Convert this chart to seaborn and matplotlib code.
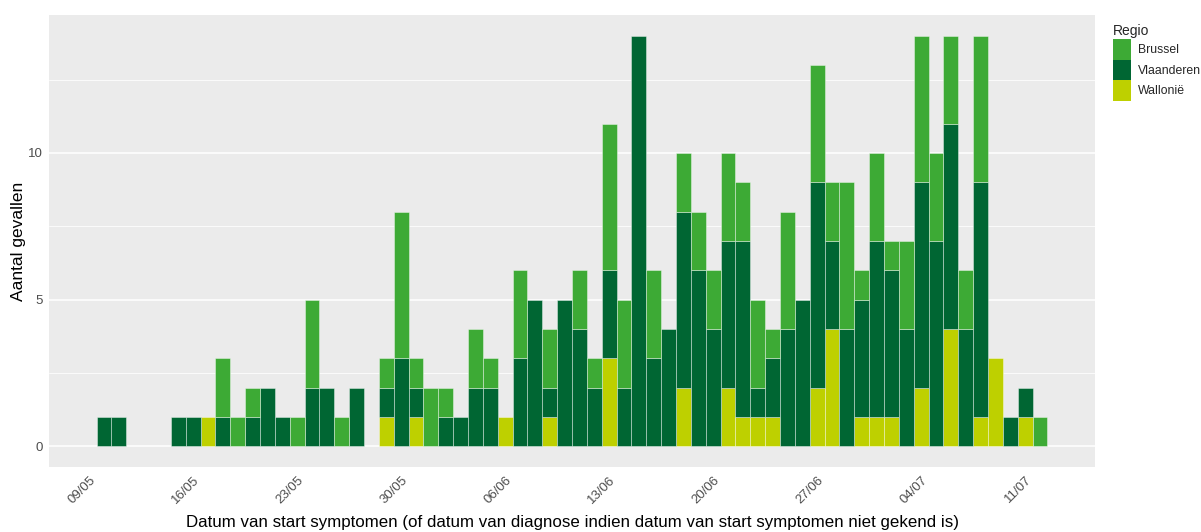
import numpy as np
import pandas as pd
import matplotlib.pyplot as plt
import seaborn as sns
from matplotlib.patches import Patch

# daily case counts per region, 10/05 -> 12/07
dates = pd.date_range("2020-05-10", "2020-07-12")
brussel = [0, 0, 0, 0, 0, 0, 0, 0, 2, 1, 1, 0, 0, 1, 3, 0, 1, 0, 0, 1,
           5, 1, 2, 1, 0, 2, 1, 0, 3, 0, 2, 0, 2, 1, 5, 3, 0, 3, 0, 2,
           2, 2, 3, 2, 3, 1, 4, 0, 4, 2, 5, 1, 3, 1, 3, 5, 3, 3, 2, 5,
           0, 0, 0, 1]
vlaanderen = [1, 1, 0, 0, 0, 1, 1, 0, 1, 0, 1, 2, 1, 0, 2, 2, 0, 2, 0, 1,
              3, 1, 0, 1, 1, 2, 2, 0, 3, 5, 1, 5, 4, 2, 3, 2, 14, 3, 4, 6,
              6, 4, 5, 6, 1, 2, 4, 5, 7, 3, 4, 4, 6, 5, 4, 7, 7, 7, 4, 8,
              0, 1, 1, 0]
wallonie = [0, 0, 0, 0, 0, 0, 0, 1, 0, 0, 0, 0, 0, 0, 0, 0, 0, 0, 0, 1,
            0, 1, 0, 0, 0, 0, 0, 1, 0, 0, 1, 0, 0, 0, 3, 0, 0, 0, 0, 2,
            0, 0, 2, 1, 1, 1, 0, 0, 2, 4, 0, 1, 1, 1, 0, 2, 0, 4, 0, 1,
            3, 0, 1, 0]
regions = ["Brussel", "Vlaanderen", "Wallonië"]
colors = ["#3DAA35", "#006633", "#BED000"]

start = pd.Timestamp("2020-05-09")
tick_dates = pd.date_range("2020-05-09", "2020-07-11", freq="7D")

day = (dates - start).days
df = pd.concat([
    pd.DataFrame({"day": day, "n": vals, "Regio": reg})
    for reg, vals in zip(regions, [brussel, vlaanderen, wallonie])
])

sns.set_style("white")
plt.rcParams["font.family"] = ["Liberation Sans", "DejaVu Sans"]

fig = plt.figure(figsize=(12.01, 5.32), dpi=100)
ax = fig.add_axes([49 / 1201, 65 / 532, 1046 / 1201, 452 / 532])
ax.set_facecolor("#EBEBEB")

sns.histplot(data=df, x="day", weights="n", hue="Regio", hue_order=regions,
             palette=colors, multiple="stack", discrete=True, shrink=1,
             alpha=1, edgecolor=(1, 1, 1, 0.45), linewidth=0.6,
             legend=False, ax=ax, zorder=3)
for p in ax.patches:
    if p.get_height() == 0:
        p.set_linewidth(0)

ax.set_xlim(-2.7, 67.7)
ax.set_ylim(-0.7, 14.7)
ax.set_yticks([0, 5, 10])
ax.set_yticks([2.5, 7.5, 12.5], minor=True)
ax.set_xticks((tick_dates - start).days)
ax.set_xticklabels(tick_dates.strftime("%d/%m"), rotation=45, ha="right",
                   rotation_mode="anchor")
ax.grid(axis="y", which="major", color="white", linewidth=1.1, zorder=0)
ax.grid(axis="y", which="minor", color="white", linewidth=0.55, zorder=0)
ax.grid(axis="x", visible=False)
ax.set_axisbelow(True)
for s in ax.spines.values():
    s.set_visible(False)
ax.tick_params(axis="both", which="major", length=3, width=0.8, color="#333333",
               labelcolor="#4D4D4D", labelsize=9.5, pad=2)
ax.tick_params(axis="y", which="major", pad=1.5)
ax.tick_params(axis="y", which="minor", length=0)

ax.set_xlabel("Datum van start symptomen (of datum van diagnose indien datum van start symptomen niet gekend is)",
              fontsize=12.2, color="black", va="top")
ax.xaxis.set_label_coords(0.5, -0.106)
ax.set_ylabel("Aantal gevallen", fontsize=12.5, color="black")
ax.yaxis.set_label_coords(-0.022, 0.5)

handles = [Patch(facecolor=c, edgecolor="none", label=r) for r, c in zip(regions, colors)]
leg = fig.legend(handles=handles, title="Regio", loc="upper left",
                 bbox_to_anchor=(1113 / 1201, 1 - 24 / 532), frameon=False,
                 fontsize=8.8, title_fontsize=10, handlelength=1.45,
                 handleheight=2.2, labelspacing=0.0, handletextpad=0.6,
                 borderaxespad=0, borderpad=0)
leg._legend_box.align = "left"
leg._legend_box.sep = 1

fig.savefig("out.png", dpi=100)
